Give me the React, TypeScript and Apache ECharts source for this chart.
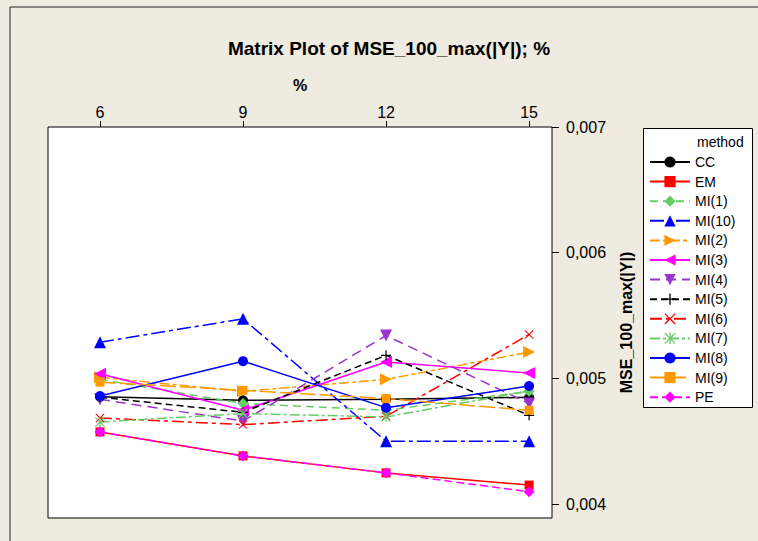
import React, { useEffect, useRef } from "react";
import * as echarts from "echarts";

const xValues = [6, 9, 12, 15];
const xTicks = [6, 9, 12, 15];
const yTicks = [0.004, 0.005, 0.006, 0.007];
const methods = ["CC", "EM", "MI(1)", "MI(10)", "MI(2)", "MI(3)", "MI(4)", "MI(5)", "MI(6)", "MI(7)", "MI(8)", "MI(9)", "PE"];

const cc = [0.004853, 0.004825, 0.004833, 0.004849];
const em = [0.004574, 0.004383, 0.004248, 0.004151];
const mi1 = [0.004992, 0.0048, 0.004746, 0.004897];
const mi10 = [0.005288, 0.005474, 0.0045, 0.0045];
const mi2 = [0.005008, 0.004897, 0.004992, 0.005209];
const mi3 = [0.005037, 0.004746, 0.00513, 0.005042];
const mi4 = [0.004833, 0.00466, 0.005341, 0.0048];
const mi5 = [0.00485, 0.00473, 0.005183, 0.004706];
const mi6 = [0.004685, 0.004632, 0.004698, 0.005349];
const mi7 = [0.004653, 0.00472, 0.004693, 0.0049];
const mi8 = [0.00486, 0.005137, 0.004767, 0.004939];
const mi9 = [0.00497, 0.004905, 0.004839, 0.004746];
const pe = [0.004574, 0.004383, 0.004248, 0.004098];

const values = [cc, em, mi1, mi10, mi2, mi3, mi4, mi5, mi6, mi7, mi8, mi9, pe];

const RIGHT_TRI = "path://M0,0L10,5L0,10Z";
const LEFT_TRI = "path://M10,0L0,5L10,10Z";
const DOWN_TRI = "path://M0,0L10,0L5,10Z";
const PLUS = "path://M4.4,0H5.6V4.4H10V5.6H5.6V10H4.4V5.6H0V4.4H4.4Z";
const CROSS = "path://M0.8,0L5,4.2L9.2,0L10,0.8L5.8,5L10,9.2L9.2,10L5,5.8L0.8,10L0,9.2L4.2,5L0,0.8Z";
const STAR = "path://M0.8,0L5,4.2L9.2,0L10,0.8L5.8,5L10,9.2L9.2,10L5,5.8L0.8,10L0,9.2L4.2,5L0,0.8Z M4.4,0H5.6V10H4.4Z";

const styles: any[] = [
  { color: "#000000", dash: "solid", symbol: "circle", size: 10 },
  { color: "#FF0000", dash: "solid", symbol: "rect", size: 9 },
  { color: "#66CC66", dash: [8, 5], symbol: "diamond", size: 11 },
  { color: "#0000FF", dash: [14, 4, 4, 4], symbol: "triangle", size: 12 },
  { color: "#FF9900", dash: [10, 3, 4, 3], symbol: RIGHT_TRI, size: 12 },
  { color: "#FF00FF", dash: "solid", symbol: LEFT_TRI, size: 12 },
  { color: "#9933CC", dash: [10, 6], symbol: DOWN_TRI, size: 12 },
  { color: "#000000", dash: [7, 4], symbol: PLUS, size: 10 },
  { color: "#FF0000", dash: [12, 4, 4, 4], symbol: CROSS, size: 9 },
  { color: "#66CC66", dash: [10, 3, 3, 3], symbol: STAR, size: 10 },
  { color: "#0000FF", dash: "solid", symbol: "circle", size: 10 },
  { color: "#FF9900", dash: [16, 4], symbol: "rect", size: 9 },
  { color: "#FF00FF", dash: [8, 4], symbol: "diamond", size: 11 },
];

const FONT = "'Liberation Sans', Arial, Helvetica, sans-serif";

export default function App() {
  const ref = useRef<HTMLDivElement>(null);
  useEffect(() => {
    if (!ref.current) return;
    const chart = echarts.init(ref.current, undefined, { renderer: "svg" });
    const series = methods.map((name, i) => ({
      type: "line",
      name,
      data: xValues.map((x, j) => [x, values[i][j]]),
      symbol: styles[i].symbol,
      symbolSize: styles[i].size,
      symbolKeepAspect: true,
      showAllSymbol: true,
      itemStyle: { color: styles[i].color },
      lineStyle: { color: styles[i].color, width: 1.5, type: styles[i].dash },
      emphasis: { disabled: true },
    }));
    chart.setOption({
      animation: false,
      backgroundColor: "#EFEBE0",
      textStyle: { fontFamily: FONT },
      grid: {
        left: 48,
        top: 127,
        right: 206,
        bottom: 23,
        show: true,
        backgroundColor: "#FFFFFF",
        borderColor: "#000000",
        borderWidth: 1,
        containLabel: false,
      },
      xAxis: {
        type: "value",
        position: "top",
        min: 4.91,
        max: 15.48,
        name: "%",
        nameLocation: "middle",
        nameGap: 34,
        nameTextStyle: { fontSize: 16, fontWeight: "bold", color: "#000", fontFamily: FONT },
        axisLine: { show: false },
        splitLine: { show: false },
        axisTick: { show: true, customValues: xTicks, length: 6, lineStyle: { color: "#000" } },
        axisLabel: { customValues: xTicks, fontSize: 16, color: "#000", margin: 7, fontFamily: FONT },
      },
      yAxis: {
        type: "value",
        position: "right",
        min: 0.003889,
        max: 0.007,
        name: "MSE_100_max(|Y|)",
        nameLocation: "middle",
        nameGap: 66,
        nameTextStyle: { fontSize: 16, fontWeight: "bold", color: "#000", fontFamily: FONT },
        axisLine: { show: false },
        splitLine: { show: false },
        axisTick: { show: true, customValues: yTicks, length: 7, lineStyle: { color: "#000" } },
        axisLabel: {
          customValues: yTicks,
          fontSize: 16,
          color: "#000",
          margin: 14,
          fontFamily: FONT,
          formatter: (v: number) => v.toFixed(3).replace(".", ","),
        },
      },
      legend: {
        orient: "vertical",
        left: 649,
        top: 155,
        padding: 0,
        itemWidth: 40,
        itemHeight: 14,
        itemGap: 5.6,
        data: methods,
        selectedMode: false,
        textStyle: { fontSize: 14, color: "#000", fontFamily: FONT },
      },
      graphic: [
        { type: "line", shape: { x1: 10, y1: 7, x2: 758, y2: 7 }, style: { stroke: "#222", lineWidth: 1 } },
        { type: "line", shape: { x1: 10, y1: 7, x2: 10, y2: 541 }, style: { stroke: "#222", lineWidth: 1 } },
        {
          type: "text",
          x: 389,
          y: 48,
          style: {
            text: "Matrix Plot of MSE_100_max(|Y|); %",
            fontSize: 19,
            fontWeight: "bold",
            fontFamily: FONT,
            fill: "#000",
            textAlign: "center",
            textVerticalAlign: "middle",
          },
        },
        {
          type: "rect",
          shape: { x: 643.5, y: 128.5, width: 109, height: 279 },
          style: { fill: "#FFFFFF", stroke: "#000", lineWidth: 1 },
          z: 1,
        },
        {
          type: "text",
          x: 697,
          y: 142,
          z: 2,
          style: {
            text: "method",
            fontSize: 14,
            fontFamily: FONT,
            fill: "#000",
            textAlign: "left",
            textVerticalAlign: "middle",
          },
        },
      ],
      series,
    });
    return () => chart.dispose();
  }, []);
  return <div ref={ref} style={{ position: "fixed", left: 0, top: 0, width: 758, height: 541 }} />;
}
